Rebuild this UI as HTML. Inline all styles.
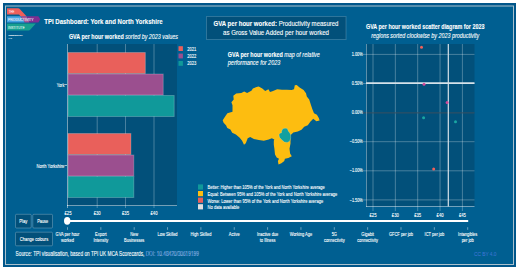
<!DOCTYPE html>
<html><head><meta charset="utf-8"><style>
html,body{margin:0;padding:0;background:#fff;width:520px;height:275px;overflow:hidden}
svg{display:block;font-family:"Liberation Sans", sans-serif}
</style></head><body>
<svg width="520" height="275" viewBox="0 0 520 275">
<rect x="3" y="3" width="513" height="264" fill="#01568a"/>
<rect x="5.5" y="6" width="508" height="258.5" fill="#005f91" stroke="#abc1cd" stroke-width="1"/>
<path d="M7,8.3 L18,8.3 Q19.2,8.3 20,9.2 L26.5,16.2 L20.5,16.2 L19,14.6 L7,14.6 Z" fill="#ee5f5b"/>
<path d="M7,16.2 L20.5,16.2 L24.9,22.4 L7,22.4 Z" fill="#45a3e2"/>
<path d="M20.5,16.2 L26.7,16.2 L29.6,22.4 L24.9,22.4 Z" fill="#a8579a"/>
<path d="M26.7,16.2 L38.4,16.2 L40.3,19.3 L38.4,22.4 L29.6,22.4 Z" fill="#7d2f92"/>
<path d="M7,23.6 L35.8,23.6 L30.4,29.6 Q29.6,30.5 28.5,30.5 L7,30.5 Z" fill="#17a090"/>
<text x="8.8" y="12.9" font-size="3.6" font-weight="normal" font-style="normal" fill="#fde2e0" stroke="#fde2e0" stroke-width="0.1" text-anchor="start" textLength="5.4" lengthAdjust="spacingAndGlyphs" >THE</text>
<text x="8" y="20.8" font-size="3.7" font-weight="normal" font-style="normal" fill="#e8eef8" stroke="#e8eef8" stroke-width="0.1" text-anchor="start" textLength="25.5" lengthAdjust="spacingAndGlyphs" >PRODUCTIVITY</text>
<text x="8" y="29" font-size="3.7" font-weight="normal" font-style="normal" fill="#d8f0ea" stroke="#d8f0ea" stroke-width="0.1" text-anchor="start" textLength="16.6" lengthAdjust="spacingAndGlyphs" >INSTITUTE</text>
<text x="8.4" y="35.8" font-size="2.3" font-weight="normal" font-style="normal" fill="#fff" stroke="#fff" stroke-width="0.1" text-anchor="start" textLength="14.4" lengthAdjust="spacingAndGlyphs" >PRODUCTIVITY</text>
<text x="8.4" y="38.7" font-size="2.0" font-weight="normal" font-style="normal" fill="#b8d4e4" stroke="#b8d4e4" stroke-width="0.1" text-anchor="start" textLength="3.6" lengthAdjust="spacingAndGlyphs" >LAB</text>
<text x="44.2" y="23.5" font-size="7.4" font-weight="bold" font-style="normal" fill="#fff" stroke="#fff" stroke-width="0.1" text-anchor="start" textLength="118.5" lengthAdjust="spacingAndGlyphs" >TPI Dashboard: York and North Yorkshire</text>
<text x="68.9" y="38.8" font-size="6.6" font-weight="normal" font-style="normal" fill="#fff" stroke="#fff" stroke-width="0.1" text-anchor="start" textLength="109" lengthAdjust="spacingAndGlyphs" ><tspan font-weight="bold">GVA per hour worked</tspan><tspan font-style="italic"> sorted by 2023 values</tspan></text>
<rect x="67" y="44" width="110" height="162" fill="#02507a"/>
<line x1="97.20" y1="44" x2="97.20" y2="208" stroke="rgba(255,255,255,0.28)" stroke-width="1"/>
<line x1="125.50" y1="44" x2="125.50" y2="208" stroke="rgba(255,255,255,0.28)" stroke-width="1"/>
<line x1="154.00" y1="44" x2="154.00" y2="208" stroke="rgba(255,255,255,0.28)" stroke-width="1"/>
<line x1="67.5" y1="44" x2="67.5" y2="206" stroke="rgba(255,255,255,0.45)" stroke-width="1"/>
<line x1="67" y1="205.5" x2="177" y2="205.5" stroke="rgba(255,255,255,0.45)" stroke-width="1"/>
<line x1="67.5" y1="205" x2="67.5" y2="208" stroke="rgba(255,255,255,0.45)" stroke-width="1"/>
<rect x="68" y="52.5" width="77.35" height="21" fill="#e9605b" stroke="rgba(255,255,255,0.22)" stroke-width="1"/>
<rect x="68" y="74.0" width="95.23" height="21" fill="#9b4f8f" stroke="rgba(255,255,255,0.22)" stroke-width="1"/>
<rect x="68" y="95.5" width="106.19" height="21" fill="#10999a" stroke="rgba(255,255,255,0.22)" stroke-width="1"/>
<rect x="68" y="133.5" width="62.94" height="21" fill="#e9605b" stroke="rgba(255,255,255,0.22)" stroke-width="1"/>
<rect x="68" y="155.0" width="65.82" height="21" fill="#9b4f8f" stroke="rgba(255,255,255,0.22)" stroke-width="1"/>
<rect x="68" y="176.5" width="65.82" height="21" fill="#10999a" stroke="rgba(255,255,255,0.22)" stroke-width="1"/>
<text x="64.3" y="86.5" font-size="5" font-weight="normal" font-style="normal" fill="#fff" stroke="#fff" stroke-width="0.1" text-anchor="end" textLength="7.5" lengthAdjust="spacingAndGlyphs" >York</text>
<line x1="64.5" y1="84.5" x2="67" y2="84.5" stroke="#fff" stroke-width="0.6"/>
<text x="64.3" y="167.5" font-size="5" font-weight="normal" font-style="normal" fill="#fff" stroke="#fff" stroke-width="0.1" text-anchor="end" textLength="27.7" lengthAdjust="spacingAndGlyphs" >North Yorkshire</text>
<line x1="64.5" y1="165.5" x2="67" y2="165.5" stroke="#fff" stroke-width="0.6"/>
<text x="68.00" y="215" font-size="4.6" font-weight="normal" font-style="normal" fill="#fff" stroke="#fff" stroke-width="0.1" text-anchor="middle" textLength="7" lengthAdjust="spacingAndGlyphs" >£25</text>
<text x="97.20" y="215" font-size="4.6" font-weight="normal" font-style="normal" fill="#fff" stroke="#fff" stroke-width="0.1" text-anchor="middle" textLength="7" lengthAdjust="spacingAndGlyphs" >£30</text>
<text x="125.50" y="215" font-size="4.6" font-weight="normal" font-style="normal" fill="#fff" stroke="#fff" stroke-width="0.1" text-anchor="middle" textLength="7" lengthAdjust="spacingAndGlyphs" >£35</text>
<text x="154.00" y="215" font-size="4.6" font-weight="normal" font-style="normal" fill="#fff" stroke="#fff" stroke-width="0.1" text-anchor="middle" textLength="7" lengthAdjust="spacingAndGlyphs" >£40</text>
<rect x="178.5" y="46.20" width="4.4" height="4.8" fill="#e9605b"/>
<text x="187.2" y="50.50" font-size="5.3" font-weight="normal" font-style="normal" fill="#fff" stroke="#fff" stroke-width="0.1" text-anchor="start" textLength="9" lengthAdjust="spacingAndGlyphs" >2021</text>
<rect x="178.5" y="53.60" width="4.4" height="4.8" fill="#9b4f8f"/>
<text x="187.2" y="57.90" font-size="5.3" font-weight="normal" font-style="normal" fill="#fff" stroke="#fff" stroke-width="0.1" text-anchor="start" textLength="9" lengthAdjust="spacingAndGlyphs" >2022</text>
<rect x="178.5" y="61.00" width="4.4" height="4.8" fill="#10999a"/>
<text x="187.2" y="65.30" font-size="5.3" font-weight="normal" font-style="normal" fill="#fff" stroke="#fff" stroke-width="0.1" text-anchor="start" textLength="9" lengthAdjust="spacingAndGlyphs" >2023</text>
<rect x="206.5" y="16.5" width="139.5" height="23" fill="#02507a" stroke="rgba(255,255,255,0.18)" stroke-width="1"/>
<text x="276" y="25.9" font-size="6.5" font-weight="normal" font-style="normal" fill="#fff" stroke="#fff" stroke-width="0.1" text-anchor="middle" textLength="125" lengthAdjust="spacingAndGlyphs" ><tspan font-weight="bold">GVA per hour worked:</tspan> Productivity measured</text>
<text x="276" y="35.2" font-size="6.5" font-weight="normal" font-style="normal" fill="#fff" stroke="#fff" stroke-width="0.1" text-anchor="middle" textLength="106" lengthAdjust="spacingAndGlyphs" >as Gross Value Added per hour worked</text>
<text x="227.8" y="57.2" font-size="6.6" font-weight="normal" font-style="normal" fill="#fff" stroke="#fff" stroke-width="0.1" text-anchor="start" textLength="92" lengthAdjust="spacingAndGlyphs" ><tspan font-weight="bold">GVA per hour worked</tspan><tspan font-style="italic"> map of relative</tspan></text>
<text x="227.8" y="65.3" font-size="6.6" font-weight="normal" font-style="italic" fill="#fff" stroke="#fff" stroke-width="0.1" text-anchor="start" textLength="52.5" lengthAdjust="spacingAndGlyphs" >performance for 2023</text>
<polygon points="222.7,120.3 225.3,116.2 227.4,113.2 232.5,111.8 232.5,105.3 231.4,102.3 233.7,99.4 233.3,95.8 236.2,93.6 241.3,92.9 244.2,91.4 247.1,92.9 251.4,90.7 252.9,88.5 256.5,87.1 258.7,86.4 262.3,88.5 265.2,91 268.4,89.2 270,91.9 272.4,91.3 277.2,89.2 282,89.7 286.8,89.7 291.6,90 294,89.2 294.8,85.2 296.7,84.9 299.6,87.6 303.6,90 306,93.2 306.8,96.4 309.2,99.6 310.8,104.4 312.4,109.2 314,113.2 316.9,114.8 318.8,118 319.6,120.4 316.4,121.2 313.2,118.8 311.6,120.4 310.5,121.6 307.8,125.3 304.2,126.7 301.5,129.8 297.8,131.6 293.3,132.5 290.5,135.3 290.5,143.5 289.5,148.8 290.1,153.4 291.8,156.3 288.3,158.1 284.9,158.7 284.3,161 281.4,163.3 278.5,164.5 277.9,161 279,158.7 276.7,157.5 275,154.6 274.4,148.8 273.8,144.7 273.8,140.7 274.3,139.5 271.8,138.3 268.7,139.5 263.8,140.8 258.8,140.1 253.9,138.9 250.2,137 247.7,138.3 245.8,143.2 244,144.7 242.1,140.8 239.7,137.7 235.9,134.6 232.2,132.7 230.4,129.6 227.3,128.1 226,125.3 223.6,122.8" fill="#fdbd10"/>
<polygon points="281.6,131.2 282.8,128.8 285,128.2 287.2,128.4 288.4,131.2 289.6,132.8 290.6,134.4 290.8,138 289.6,141.2 287.2,142.4 284.4,142 282,140 279.6,137.6 279,134.8 280,133.2 281.6,132.8" fill="#12a0a0" stroke="rgba(255,255,255,0.35)" stroke-width="0.5"/>
<rect x="198" y="184.4" width="5" height="5.2" fill="#10999a"/>
<text x="207.5" y="189.4" font-size="4.9" font-weight="normal" font-style="normal" fill="#fff" stroke="#fff" stroke-width="0.1" text-anchor="start" textLength="117.2" lengthAdjust="spacingAndGlyphs" >Better: Higher than 105% of the York and North Yorkshire average</text>
<rect x="198" y="191.0" width="5" height="5.2" fill="#fdbd10"/>
<text x="207.5" y="196.0" font-size="4.9" font-weight="normal" font-style="normal" fill="#fff" stroke="#fff" stroke-width="0.1" text-anchor="start" textLength="129.7" lengthAdjust="spacingAndGlyphs" >Equal: Between 95% and 105% of the York and North Yorkshire average</text>
<rect x="198" y="197.6" width="5" height="5.2" fill="#e9605b"/>
<text x="207.5" y="202.6" font-size="4.9" font-weight="normal" font-style="normal" fill="#fff" stroke="#fff" stroke-width="0.1" text-anchor="start" textLength="115.7" lengthAdjust="spacingAndGlyphs" >Worse: Lower than 95% of the York and North Yorkshire average</text>
<rect x="198" y="204.2" width="5" height="5.2" fill="#e0e0e0"/>
<text x="207.5" y="209.2" font-size="4.9" font-weight="normal" font-style="normal" fill="#fff" stroke="#fff" stroke-width="0.1" text-anchor="start" textLength="31.7" lengthAdjust="spacingAndGlyphs" >No data available</text>
<text x="425.2" y="29.4" font-size="6.9" font-weight="bold" font-style="normal" fill="#fff" stroke="#fff" stroke-width="0.1" text-anchor="middle" textLength="118.4" lengthAdjust="spacingAndGlyphs" >GVA per hour worked scatter diagram for 2023</text>
<text x="425.2" y="38.2" font-size="6.9" font-weight="normal" font-style="italic" fill="#fff" stroke="#fff" stroke-width="0.1" text-anchor="middle" textLength="108" lengthAdjust="spacingAndGlyphs" >regions sorted clockwise by 2023 productivity</text>
<rect x="366" y="44" width="108.5" height="162.5" fill="#02507a"/>
<line x1="373.00" y1="44" x2="373.00" y2="211" stroke="rgba(255,255,255,0.28)" stroke-width="1"/>
<text x="373.00" y="217" font-size="4.6" font-weight="normal" font-style="normal" fill="#fff" stroke="#fff" stroke-width="0.1" text-anchor="middle" textLength="7" lengthAdjust="spacingAndGlyphs" >£25</text>
<line x1="395.35" y1="44" x2="395.35" y2="211" stroke="rgba(255,255,255,0.28)" stroke-width="1"/>
<text x="395.35" y="217" font-size="4.6" font-weight="normal" font-style="normal" fill="#fff" stroke="#fff" stroke-width="0.1" text-anchor="middle" textLength="7" lengthAdjust="spacingAndGlyphs" >£30</text>
<line x1="417.70" y1="44" x2="417.70" y2="211" stroke="rgba(255,255,255,0.28)" stroke-width="1"/>
<text x="417.70" y="217" font-size="4.6" font-weight="normal" font-style="normal" fill="#fff" stroke="#fff" stroke-width="0.1" text-anchor="middle" textLength="7" lengthAdjust="spacingAndGlyphs" >£35</text>
<line x1="440.05" y1="44" x2="440.05" y2="211" stroke="rgba(255,255,255,0.28)" stroke-width="1"/>
<text x="440.05" y="217" font-size="4.6" font-weight="normal" font-style="normal" fill="#fff" stroke="#fff" stroke-width="0.1" text-anchor="middle" textLength="7" lengthAdjust="spacingAndGlyphs" >£40</text>
<line x1="462.40" y1="44" x2="462.40" y2="211" stroke="rgba(255,255,255,0.28)" stroke-width="1"/>
<text x="462.40" y="217" font-size="4.6" font-weight="normal" font-style="normal" fill="#fff" stroke="#fff" stroke-width="0.1" text-anchor="middle" textLength="7" lengthAdjust="spacingAndGlyphs" >£45</text>
<line x1="363" y1="54.40" x2="474.5" y2="54.40" stroke="rgba(255,255,255,0.28)" stroke-width="1"/>
<text x="362.7" y="56.00" font-size="4.6" font-weight="normal" font-style="normal" fill="#fff" stroke="#fff" stroke-width="0.1" text-anchor="end" textLength="11" lengthAdjust="spacingAndGlyphs" >1.00%</text>
<line x1="363" y1="83.50" x2="474.5" y2="83.50" stroke="rgba(255,255,255,0.28)" stroke-width="1"/>
<text x="362.7" y="85.10" font-size="4.6" font-weight="normal" font-style="normal" fill="#fff" stroke="#fff" stroke-width="0.1" text-anchor="end" textLength="11" lengthAdjust="spacingAndGlyphs" >0.50%</text>
<line x1="363" y1="112.90" x2="474.5" y2="112.90" stroke="#3a5060" stroke-width="1"/>
<text x="362.7" y="114.20" font-size="4.6" font-weight="normal" font-style="normal" fill="#fff" stroke="#fff" stroke-width="0.1" text-anchor="end" textLength="11" lengthAdjust="spacingAndGlyphs" >0.00%</text>
<line x1="363" y1="141.70" x2="474.5" y2="141.70" stroke="rgba(255,255,255,0.28)" stroke-width="1"/>
<text x="362.7" y="143.30" font-size="4.6" font-weight="normal" font-style="normal" fill="#fff" stroke="#fff" stroke-width="0.1" text-anchor="end" textLength="13" lengthAdjust="spacingAndGlyphs" >−0.50%</text>
<line x1="363" y1="170.80" x2="474.5" y2="170.80" stroke="rgba(255,255,255,0.28)" stroke-width="1"/>
<text x="362.7" y="172.40" font-size="4.6" font-weight="normal" font-style="normal" fill="#fff" stroke="#fff" stroke-width="0.1" text-anchor="end" textLength="13" lengthAdjust="spacingAndGlyphs" >−1.00%</text>
<line x1="363" y1="199.90" x2="474.5" y2="199.90" stroke="rgba(255,255,255,0.28)" stroke-width="1"/>
<text x="362.7" y="201.50" font-size="4.6" font-weight="normal" font-style="normal" fill="#fff" stroke="#fff" stroke-width="0.1" text-anchor="end" textLength="13" lengthAdjust="spacingAndGlyphs" >−1.50%</text>
<line x1="366.5" y1="44" x2="366.5" y2="207" stroke="rgba(255,255,255,0.36)" stroke-width="1"/>
<line x1="366" y1="206.5" x2="474.5" y2="206.5" stroke="rgba(255,255,255,0.45)" stroke-width="1"/>
<line x1="366" y1="83.1" x2="474.5" y2="83.1" stroke="#d6e2ea" stroke-width="1.6"/>
<line x1="448.3" y1="44" x2="448.3" y2="206.5" stroke="#d6e2ea" stroke-width="1.2"/>
<circle cx="421.5" cy="47.3" r="1.5" fill="#f0605a"/>
<circle cx="424" cy="84.3" r="1.5" fill="#d0489a"/>
<circle cx="423.6" cy="117.7" r="1.5" fill="#1aa6a2"/>
<circle cx="447.1" cy="102.6" r="1.5" fill="#d0489a"/>
<circle cx="455.5" cy="121.7" r="1.5" fill="#1aa6a2"/>
<circle cx="433.7" cy="169.1" r="1.5" fill="#f0605a"/>
<line x1="67" y1="220.9" x2="468.2" y2="220.9" stroke="#fff" stroke-width="2"/>
<ellipse cx="67.2" cy="220.8" rx="3.2" ry="3.9" fill="#fff"/>
<line x1="67.50" y1="227.2" x2="67.50" y2="229.8" stroke="rgba(255,255,255,0.7)" stroke-width="0.6"/>
<text x="67.50" y="236.5" font-size="5.1" font-weight="normal" font-style="normal" fill="#fff" stroke="#fff" stroke-width="0.1" text-anchor="middle" transform-origin="67.50 236" style="transform:scaleX(0.78)">GVA per hour</text>
<text x="67.50" y="242.4" font-size="5.1" font-weight="normal" font-style="normal" fill="#fff" stroke="#fff" stroke-width="0.1" text-anchor="middle" transform-origin="67.50 242" style="transform:scaleX(0.78)">worked</text>
<line x1="100.85" y1="227.2" x2="100.85" y2="229.8" stroke="rgba(255,255,255,0.7)" stroke-width="0.6"/>
<text x="100.85" y="236.5" font-size="5.1" font-weight="normal" font-style="normal" fill="#fff" stroke="#fff" stroke-width="0.1" text-anchor="middle" transform-origin="100.85 236" style="transform:scaleX(0.78)">Export</text>
<text x="100.85" y="242.4" font-size="5.1" font-weight="normal" font-style="normal" fill="#fff" stroke="#fff" stroke-width="0.1" text-anchor="middle" transform-origin="100.85 242" style="transform:scaleX(0.78)">Intensity</text>
<line x1="134.20" y1="227.2" x2="134.20" y2="229.8" stroke="rgba(255,255,255,0.7)" stroke-width="0.6"/>
<text x="134.20" y="236.5" font-size="5.1" font-weight="normal" font-style="normal" fill="#fff" stroke="#fff" stroke-width="0.1" text-anchor="middle" transform-origin="134.20 236" style="transform:scaleX(0.78)">New</text>
<text x="134.20" y="242.4" font-size="5.1" font-weight="normal" font-style="normal" fill="#fff" stroke="#fff" stroke-width="0.1" text-anchor="middle" transform-origin="134.20 242" style="transform:scaleX(0.78)">Businesses</text>
<line x1="167.55" y1="227.2" x2="167.55" y2="229.8" stroke="rgba(255,255,255,0.7)" stroke-width="0.6"/>
<text x="167.55" y="236.5" font-size="5.1" font-weight="normal" font-style="normal" fill="#fff" stroke="#fff" stroke-width="0.1" text-anchor="middle" transform-origin="167.55 236" style="transform:scaleX(0.78)">Low Skilled</text>
<line x1="200.90" y1="227.2" x2="200.90" y2="229.8" stroke="rgba(255,255,255,0.7)" stroke-width="0.6"/>
<text x="200.90" y="236.5" font-size="5.1" font-weight="normal" font-style="normal" fill="#fff" stroke="#fff" stroke-width="0.1" text-anchor="middle" transform-origin="200.90 236" style="transform:scaleX(0.78)">High Skilled</text>
<line x1="234.25" y1="227.2" x2="234.25" y2="229.8" stroke="rgba(255,255,255,0.7)" stroke-width="0.6"/>
<text x="234.25" y="236.5" font-size="5.1" font-weight="normal" font-style="normal" fill="#fff" stroke="#fff" stroke-width="0.1" text-anchor="middle" transform-origin="234.25 236" style="transform:scaleX(0.78)">Active</text>
<line x1="267.60" y1="227.2" x2="267.60" y2="229.8" stroke="rgba(255,255,255,0.7)" stroke-width="0.6"/>
<text x="267.60" y="236.5" font-size="5.1" font-weight="normal" font-style="normal" fill="#fff" stroke="#fff" stroke-width="0.1" text-anchor="middle" transform-origin="267.60 236" style="transform:scaleX(0.78)">Inactive due</text>
<text x="267.60" y="242.4" font-size="5.1" font-weight="normal" font-style="normal" fill="#fff" stroke="#fff" stroke-width="0.1" text-anchor="middle" transform-origin="267.60 242" style="transform:scaleX(0.78)">to Illness</text>
<line x1="300.95" y1="227.2" x2="300.95" y2="229.8" stroke="rgba(255,255,255,0.7)" stroke-width="0.6"/>
<text x="300.95" y="236.5" font-size="5.1" font-weight="normal" font-style="normal" fill="#fff" stroke="#fff" stroke-width="0.1" text-anchor="middle" transform-origin="300.95 236" style="transform:scaleX(0.78)">Working Age</text>
<line x1="334.30" y1="227.2" x2="334.30" y2="229.8" stroke="rgba(255,255,255,0.7)" stroke-width="0.6"/>
<text x="334.30" y="236.5" font-size="5.1" font-weight="normal" font-style="normal" fill="#fff" stroke="#fff" stroke-width="0.1" text-anchor="middle" transform-origin="334.30 236" style="transform:scaleX(0.78)">5G</text>
<text x="334.30" y="242.4" font-size="5.1" font-weight="normal" font-style="normal" fill="#fff" stroke="#fff" stroke-width="0.1" text-anchor="middle" transform-origin="334.30 242" style="transform:scaleX(0.78)">connectivity</text>
<line x1="367.65" y1="227.2" x2="367.65" y2="229.8" stroke="rgba(255,255,255,0.7)" stroke-width="0.6"/>
<text x="367.65" y="236.5" font-size="5.1" font-weight="normal" font-style="normal" fill="#fff" stroke="#fff" stroke-width="0.1" text-anchor="middle" transform-origin="367.65 236" style="transform:scaleX(0.78)">Gigabit</text>
<text x="367.65" y="242.4" font-size="5.1" font-weight="normal" font-style="normal" fill="#fff" stroke="#fff" stroke-width="0.1" text-anchor="middle" transform-origin="367.65 242" style="transform:scaleX(0.78)">connectivity</text>
<line x1="401.00" y1="227.2" x2="401.00" y2="229.8" stroke="rgba(255,255,255,0.7)" stroke-width="0.6"/>
<text x="401.00" y="236.5" font-size="5.1" font-weight="normal" font-style="normal" fill="#fff" stroke="#fff" stroke-width="0.1" text-anchor="middle" transform-origin="401.00 236" style="transform:scaleX(0.78)">GFCF per job</text>
<line x1="434.35" y1="227.2" x2="434.35" y2="229.8" stroke="rgba(255,255,255,0.7)" stroke-width="0.6"/>
<text x="434.35" y="236.5" font-size="5.1" font-weight="normal" font-style="normal" fill="#fff" stroke="#fff" stroke-width="0.1" text-anchor="middle" transform-origin="434.35 236" style="transform:scaleX(0.78)">ICT per job</text>
<line x1="467.70" y1="227.2" x2="467.70" y2="229.8" stroke="rgba(255,255,255,0.7)" stroke-width="0.6"/>
<text x="467.70" y="236.5" font-size="5.1" font-weight="normal" font-style="normal" fill="#fff" stroke="#fff" stroke-width="0.1" text-anchor="middle" transform-origin="467.70 236" style="transform:scaleX(0.78)">Intangibles</text>
<text x="467.70" y="242.4" font-size="5.1" font-weight="normal" font-style="normal" fill="#fff" stroke="#fff" stroke-width="0.1" text-anchor="middle" transform-origin="467.70 242" style="transform:scaleX(0.78)">per job</text>
<rect x="15.5" y="214.3" width="15.7" height="13.7" rx="1" fill="#02507a" stroke="rgba(255,255,255,0.35)" stroke-width="0.7"/>
<text x="23.35" y="222.85" font-size="4.8" font-weight="normal" font-style="normal" fill="#fff" stroke="#fff" stroke-width="0.1" text-anchor="middle" textLength="8" lengthAdjust="spacingAndGlyphs" >Play</text>
<rect x="32.8" y="214.3" width="19.7" height="13.7" rx="1" fill="#02507a" stroke="rgba(255,255,255,0.35)" stroke-width="0.7"/>
<text x="42.65" y="222.85" font-size="4.8" font-weight="normal" font-style="normal" fill="#fff" stroke="#fff" stroke-width="0.1" text-anchor="middle" textLength="11" lengthAdjust="spacingAndGlyphs" >Pause</text>
<rect x="15.5" y="232.2" width="37" height="13.6" rx="1" fill="#02507a" stroke="rgba(255,255,255,0.35)" stroke-width="0.7"/>
<text x="34.00" y="240.70" font-size="4.8" font-weight="normal" font-style="normal" fill="#fff" stroke="#fff" stroke-width="0.1" text-anchor="middle" textLength="28.5" lengthAdjust="spacingAndGlyphs" >Change colours</text>
<text x="15.6" y="256" font-size="6.3" font-weight="normal" font-style="normal" fill="#fff" stroke="#fff" stroke-width="0.1" text-anchor="start" textLength="183.2" lengthAdjust="spacingAndGlyphs" >Source: TPI visualisation, based on TPI UK MCA Scorecards, <tspan fill="#3d7fd8">DOI: 10.48420/30619199</tspan></text>
<text x="474" y="256" font-size="5.5" font-weight="normal" font-style="normal" fill="#3a74d0" stroke="#3a74d0" stroke-width="0.1" text-anchor="start" textLength="22.5" lengthAdjust="spacingAndGlyphs" >CC BY 4.0</text>
</svg>
</body></html>
